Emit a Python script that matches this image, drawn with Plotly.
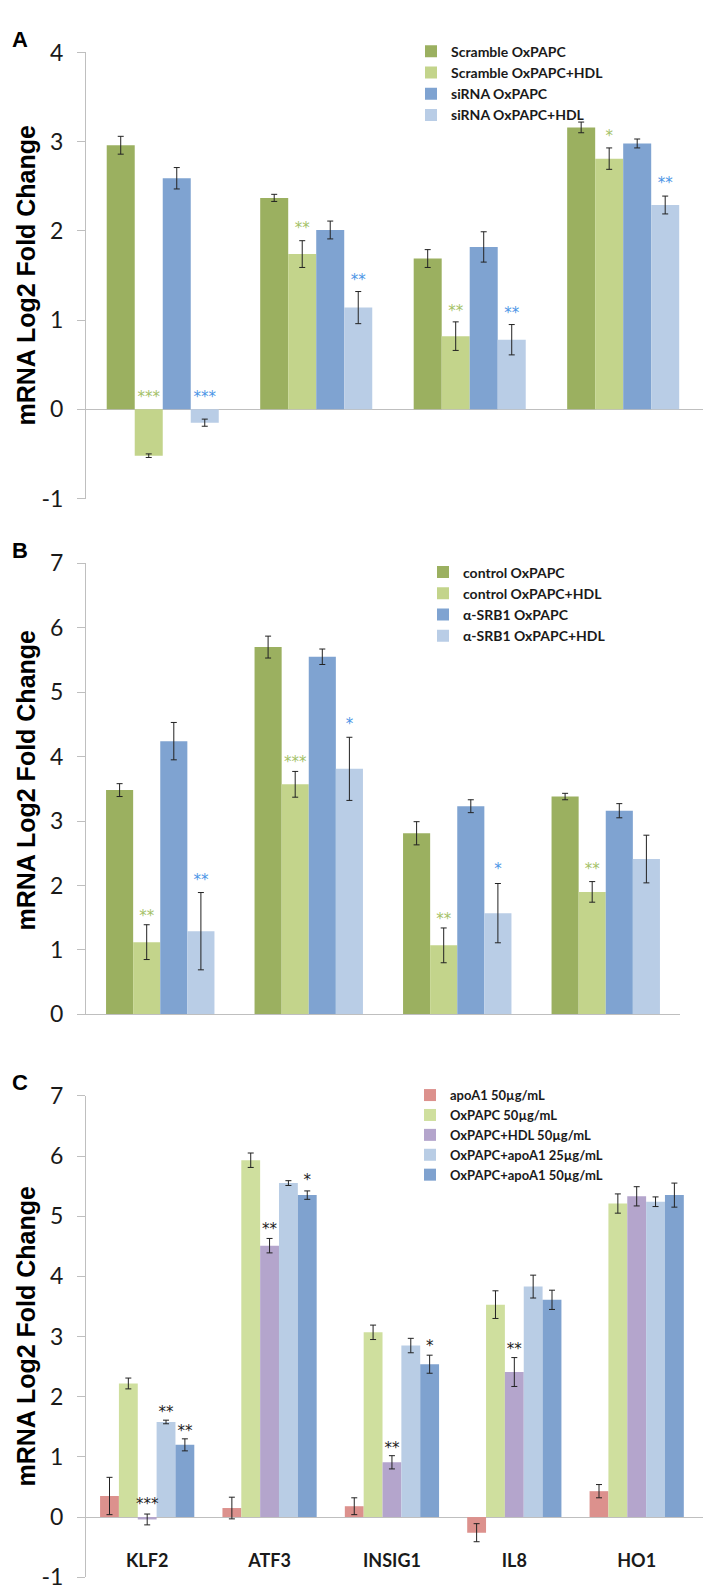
import plotly.graph_objects as go

# ---------------- Panel A data ----------------
a_genes = ["KLF2", "ATF3", "LDLR", "IL-8"]
a_series = ["Scramble OxPAPC", "Scramble OxPAPC+HDL", "siRNA OxPAPC", "siRNA OxPAPC+HDL"]
a_scr = [2.96, 2.37, 1.69, 3.16]
a_scr_err = [0.10, 0.04, 0.10, 0.06]
a_scr_hdl = [-0.52, 1.74, 0.82, 2.81]
a_scr_hdl_err = [0.02, 0.15, 0.16, 0.12]
a_si = [2.59, 2.01, 1.82, 2.98]
a_si_err = [0.12, 0.10, 0.17, 0.05]
a_si_hdl = [-0.15, 1.14, 0.78, 2.29]
a_si_hdl_err = [0.04, 0.18, 0.17, 0.10]
a_stars_scr_hdl = ["***", "**", "**", "*"]
a_stars_scr_hdl_y = [0.12, 2.02, 1.09, 3.05]
a_stars_si_hdl = ["***", "**", "**", "**"]
a_stars_si_hdl_y = [0.12, 1.43, 1.07, 2.52]
a_yticks = [-1, 0, 1, 2, 3, 4]
a_yticktext = ["-1", "0", "1", "2", "3", "4"]

# ---------------- Panel B data ----------------
b_genes = ["KLF2", "ATF3", "LDLR", "IL8"]
b_series = ["control OxPAPC", "control OxPAPC+HDL", "α-SRB1 OxPAPC", "α-SRB1 OxPAPC+HDL"]
b_ctl = [3.48, 5.70, 2.81, 3.38]
b_ctl_err = [0.10, 0.17, 0.18, 0.05]
b_ctl_hdl = [1.12, 3.57, 1.07, 1.90]
b_ctl_hdl_err = [0.27, 0.20, 0.27, 0.16]
b_srb = [4.24, 5.55, 3.23, 3.16]
b_srb_err = [0.29, 0.12, 0.10, 0.11]
b_srb_hdl = [1.29, 3.81, 1.57, 2.41]
b_srb_hdl_err = [0.60, 0.49, 0.46, 0.37]
b_stars_ctl_hdl = ["**", "***", "**", "**"]
b_stars_ctl_hdl_y = [1.51, 3.90, 1.46, 2.23]
b_stars_srb_hdl = ["**", "*", "*", ""]
b_stars_srb_hdl_y = [2.06, 4.49, 2.23, 0]
b_yticks = [0, 1, 2, 3, 4, 5, 6, 7]
b_yticktext = ["0", "1", "2", "3", "4", "5", "6", "7"]

# ---------------- Panel C data ----------------
c_genes = ["KLF2", "ATF3", "INSIG1", "IL8", "HO1"]
c_series = ["apoA1 50µg/mL", "OxPAPC 50µg/mL", "OxPAPC+HDL 50µg/mL",
            "OxPAPC+apoA1 25µg/mL", "OxPAPC+apoA1 50µg/mL"]
c_apo = [0.35, 0.15, 0.18, -0.26, 0.43]
c_apo_err = [0.31, 0.18, 0.14, 0.15, 0.11]
c_ox = [2.22, 5.93, 3.07, 3.53, 5.21]
c_ox_err = [0.09, 0.12, 0.12, 0.23, 0.16]
c_hdl = [-0.04, 4.51, 0.91, 2.41, 5.33]
c_hdl_err = [0.09, 0.12, 0.11, 0.24, 0.16]
c_apo25 = [1.58, 5.55, 2.85, 3.83, 5.24]
c_apo25_err = [0.03, 0.04, 0.12, 0.19, 0.08]
c_apo50 = [1.20, 5.35, 2.54, 3.61, 5.35]
c_apo50_err = [0.10, 0.07, 0.15, 0.16, 0.20]
c_stars_hdl = ["***", "**", "**", "**", ""]
c_stars_hdl_y = [0.19, 4.76, 1.12, 2.78, 0]
c_stars_apo25 = ["**", "", "", "", ""]
c_stars_apo25_y = [1.73, 0, 0, 0, 0]
c_stars_apo50 = ["**", "*", "*", "", ""]
c_stars_apo50_y = [1.41, 5.58, 2.82, 0, 0]
c_yticks = [-1, 0, 1, 2, 3, 4, 5, 6, 7]
c_yticktext = ["-1", "0", "1", "2", "3", "4", "5", "6", "7"]

# ---------------- styles ----------------
W, H = 711, 1595
AX = "#BFBFBF"
TXT = "#1a1a1a"
FONT = "Lato"
ab_colors = ["#9BB060", "#C3D48B", "#7FA3D1", "#B9CDE6"]
star_green = "#A4C167"
star_blue = "#4C95E6"
c_colors = ["#DC918D", "#CFDF9E", "#B4A5CC", "#B9CDE5", "#7FA2CF"]


def py(pix):
    return 1 - pix / H


fig = go.Figure()


def add_panel(xa, ya, legend, genes, series, vals, errs, colors, group_frac,
              stars, label_y):
    n = len(series)
    bw = group_frac / n
    offs = [-group_frac / 2 + k * bw for k in range(n)]
    xs = list(range(len(genes)))
    for k in range(n):
        fig.add_trace(go.Bar(
            x=xs, y=vals[k], offset=offs[k], width=bw, name=series[k],
            marker=dict(color=colors[k], line=dict(width=0)),
            error_y=dict(type="data", array=errs[k], visible=True,
                         color="#222222", thickness=1, width=3),
            xaxis=xa, yaxis=ya, legend=legend, showlegend=True))
    for (k, txt, yv, col) in stars:
        fig.add_trace(go.Scatter(
            x=[i + offs[k] + bw / 2 for i in xs], y=yv, text=txt, mode="text",
            textposition="middle center",
            textfont=dict(family="DejaVu Sans", size=15, color=col),
            xaxis=xa, yaxis=ya, showlegend=False, cliponaxis=False,
            hoverinfo="skip"))
    fig.add_trace(go.Scatter(
        x=xs, y=[label_y] * len(xs), text=genes, mode="text",
        textposition="middle center",
        textfont=dict(family=FONT, size=18, color=TXT, weight="bold"),
        xaxis=xa, yaxis=ya, showlegend=False, cliponaxis=False,
        hoverinfo="skip"))


add_panel("x", "y", "legend", a_genes, a_series,
          [a_scr, a_scr_hdl, a_si, a_si_hdl],
          [a_scr_err, a_scr_hdl_err, a_si_err, a_si_hdl_err],
          ab_colors, 0.73,
          [(1, a_stars_scr_hdl, a_stars_scr_hdl_y, star_green),
           (3, a_stars_si_hdl, a_stars_si_hdl_y, star_blue)], -1.1)
add_panel("x2", "y2", "legend2", b_genes, b_series,
          [b_ctl, b_ctl_hdl, b_srb, b_srb_hdl],
          [b_ctl_err, b_ctl_hdl_err, b_srb_err, b_srb_hdl_err],
          ab_colors, 0.73,
          [(1, b_stars_ctl_hdl, b_stars_ctl_hdl_y, star_green),
           (3, b_stars_srb_hdl, b_stars_srb_hdl_y, star_blue)], -0.63)
add_panel("x3", "y3", "legend3", c_genes, c_series,
          [c_apo, c_ox, c_hdl, c_apo25, c_apo50],
          [c_apo_err, c_ox_err, c_hdl_err, c_apo25_err, c_apo50_err],
          c_colors, 0.77,
          [(2, c_stars_hdl, c_stars_hdl_y, TXT),
           (3, c_stars_apo25, c_stars_apo25_y, TXT),
           (4, c_stars_apo50, c_stars_apo50_y, TXT)], -0.75)

xcommon = dict(showticklabels=False, showgrid=False, zeroline=False,
               ticks="", fixedrange=True)
ycommon = dict(showgrid=False, ticks="outside", ticklen=8,
               tickcolor=AX, tickwidth=1, showline=True, linecolor=AX,
               linewidth=1, tickfont=dict(family=FONT, size=23, color=TXT),
               zerolinecolor=AX, zerolinewidth=1, ticklabelstandoff=9,
               tickmode="array")

fig.update_layout(
    width=W, height=H, margin=dict(l=0, r=0, t=0, b=0),
    paper_bgcolor="white", plot_bgcolor="white", barmode="overlay",
    xaxis=dict(domain=[78 / W, 695 / W], range=[-0.5, 3.52], anchor="y",
               showline=False, **xcommon),
    yaxis=dict(domain=[py(484), py(30)], range=[-1, 4], anchor="x",
               zeroline=True, tickvals=a_yticks, ticktext=a_yticktext,
               **ycommon),
    xaxis2=dict(domain=[78 / W, 672 / W], range=[-0.5, 3.5], anchor="y2",
                showline=True, linecolor=AX, linewidth=1, **xcommon),
    yaxis2=dict(domain=[py(1009), py(550)], range=[0, 7], anchor="x2",
                zeroline=False, tickvals=b_yticks, ticktext=b_yticktext,
                **ycommon),
    xaxis3=dict(domain=[78 / W, 696 / W], range=[-0.5, 4.55], anchor="y3",
                showline=False, **xcommon),
    yaxis3=dict(domain=[py(1582), py(1092)], range=[-1, 7], anchor="x3",
                zeroline=True, tickvals=c_yticks, ticktext=c_yticktext,
                **ycommon),
    legend=dict(x=403 / W, y=py(13), xanchor="left", yanchor="top",
                bgcolor="rgba(0,0,0,0)", itemwidth=30,
                font=dict(family=FONT, size=14, color=TXT, weight="bold")),
    legend2=dict(x=415 / W, y=py(543), xanchor="left", yanchor="top",
                 bgcolor="rgba(0,0,0,0)", itemwidth=30,
                 font=dict(family=FONT, size=14, color=TXT, weight="bold")),
    legend3=dict(x=402 / W, y=py(1076), xanchor="left", yanchor="top",
                 bgcolor="rgba(0,0,0,0)", itemwidth=30,
                 font=dict(family=FONT, size=13, color=TXT, weight="bold")),
    showlegend=True,
)

# panel letters and y-axis titles
for letter, ytop in [("A", 2), ("B", 522), ("C", 1064)]:
    fig.add_annotation(text="<b>%s</b>" % letter, x=2 / W, y=py(ytop),
                       xref="paper", yref="paper", xanchor="left",
                       yanchor="top", showarrow=False,
                       font=dict(family="Liberation Sans", size=22, color="black"))
for yc in [257, 771, 1337]:
    fig.add_annotation(text="<b>mRNA Log2 Fold Change</b>", x=18 / W, y=py(yc),
                       xref="paper", yref="paper", textangle=-90,
                       xanchor="center", yanchor="middle", showarrow=False,
                       font=dict(family="Liberation Sans", size=25, color="black"))

fig.write_html("out.html")
